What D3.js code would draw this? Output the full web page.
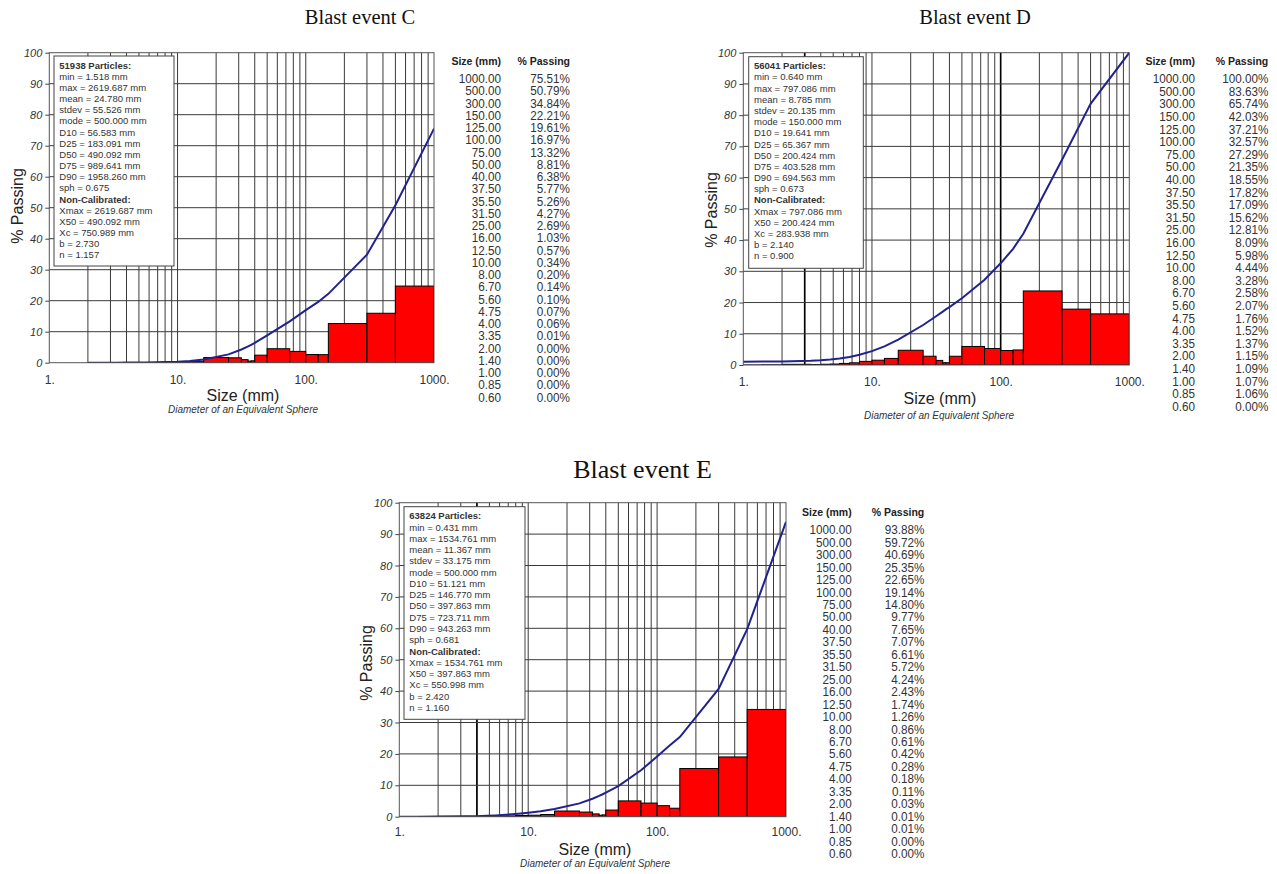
<!DOCTYPE html>
<html><head><meta charset="utf-8">
<script src="https://cdn.jsdelivr.net/npm/d3@7"></script>
<style>
body{margin:0;background:#fff}
svg{display:block}
text{font-family:"Liberation Sans",Arial,Helvetica,sans-serif}
</style>
</head><body>
<svg id="chart" width="1277" height="874"></svg>
<script>
// ---------------- DATA ----------------
const titles = ["Blast event C", "Blast event D", "Blast event E"];
const sieveSizes = [1000, 500, 300, 150, 125, 100, 75, 50, 40, 37.5, 35.5, 31.5, 25, 16, 12.5, 10, 8, 6.7, 5.6, 4.75, 4, 3.35, 2, 1.4, 1, 0.85, 0.6];
const passingC = [75.51, 50.79, 34.84, 22.21, 19.61, 16.97, 13.32, 8.81, 6.38, 5.77, 5.26, 4.27, 2.69, 1.03, 0.57, 0.34, 0.20, 0.14, 0.10, 0.07, 0.06, 0.01, 0.00, 0.00, 0.00, 0.00, 0.00];
const passingD = [100.00, 83.63, 65.74, 42.03, 37.21, 32.57, 27.29, 21.35, 18.55, 17.82, 17.09, 15.62, 12.81, 8.09, 5.98, 4.44, 3.28, 2.58, 2.07, 1.76, 1.52, 1.37, 1.15, 1.09, 1.07, 1.06, 0.00];
const passingE = [93.88, 59.72, 40.69, 25.35, 22.65, 19.14, 14.80, 9.77, 7.65, 7.07, 6.61, 5.72, 4.24, 2.43, 1.74, 1.26, 0.86, 0.61, 0.42, 0.28, 0.18, 0.11, 0.03, 0.01, 0.01, 0.00, 0.00];
const minSizeC = 1.518, minSizeD = 0.640, minSizeE = 0.431;
const statsC = ["51938 Particles:", "min = 1.518 mm", "max = 2619.687 mm", "mean = 24.780 mm", "stdev = 55.526 mm", "mode = 500.000 mm", "D10 = 56.583 mm", "D25 = 183.091 mm", "D50 = 490.092 mm", "D75 = 989.641 mm", "D90 = 1958.260 mm", "sph = 0.675", "Non-Calibrated:", "Xmax = 2619.687 mm", "X50 = 490.092 mm", "Xc = 750.989 mm", "b = 2.730", "n = 1.157"];
const statsD = ["56041 Particles:", "min = 0.640 mm", "max = 797.086 mm", "mean = 8.785 mm", "stdev = 20.135 mm", "mode = 150.000 mm", "D10 = 19.641 mm", "D25 = 65.367 mm", "D50 = 200.424 mm", "D75 = 403.528 mm", "D90 = 694.563 mm", "sph = 0.673", "Non-Calibrated:", "Xmax = 797.086 mm", "X50 = 200.424 mm", "Xc = 283.938 mm", "b = 2.140", "n = 0.900"];
const statsE = ["63824 Particles:", "min = 0.431 mm", "max = 1534.761 mm", "mean = 11.367 mm", "stdev = 33.175 mm", "mode = 500.000 mm", "D10 = 51.121 mm", "D25 = 146.770 mm", "D50 = 397.863 mm", "D75 = 723.711 mm", "D90 = 943.263 mm", "sph = 0.681", "Non-Calibrated:", "Xmax = 1534.761 mm", "X50 = 397.863 mm", "Xc = 550.998 mm", "b = 2.420", "n = 1.160"];
const boldStatLines = ["Particles:", "Non-Calibrated:"];
const xTickValues = [1, 10, 100, 1000];
const xTickLabels = ["1.", "10.", "100.", "1000."];
const yTickValues = [0, 10, 20, 30, 40, 50, 60, 70, 80, 90, 100];
const gridMultipliers = [2, 3, 4, 5, 6, 7, 8, 9];
const darkGridC = [], darkGridD = [3, 100], darkGridE = [4];
const tableHeaders = ["Size (mm)", "% Passing"];
const xAxisTitle = "Size (mm)";
const xAxisSubtitle = "Diameter of an Equivalent Sphere";
const yAxisTitle = "% Passing";

// ---------------- LAYOUT ----------------
const panels = [
  {title: titles[0], passing: passingC, stats: statsC, minSize: minSizeC, dark: darkGridC,
   left: 49.3, right: 434, top: 52.7, bottom: 362.7,
   titlePos: [360, 24, 20.5], yTitle: [17, 206], xTitle: [243, 400.7], sub: [243, 412.6], xTickY: 384.3,
   box: [54, 56, 120, 210, 11.17],
   table: {sizeRight: 501, pctRight: 570, headY: 64.6, row0: 83.2, step: 12.25}},
  {title: titles[1], passing: passingD, stats: statsD, minSize: minSizeD, dark: darkGridD,
   left: 743.3, right: 1129.3, top: 52.7, bottom: 365,
   titlePos: [975, 24, 20.5], yTitle: [711.7, 210], xTitle: [940, 404], sub: [939, 418.6], xTickY: 386,
   box: [748.7, 56.7, 114.6, 211.6, 11.18],
   table: {sizeRight: 1195, pctRight: 1268.3, headY: 64.6, row0: 83.2, step: 12.6}},
  {title: titles[2], passing: passingE, stats: statsE, minSize: minSizeE, dark: darkGridE,
   left: 399.3, right: 786, top: 502.7, bottom: 816.7,
   titlePos: [642.5, 478.3, 26], yTitle: [366, 663], xTitle: [595, 855], sub: [595, 867], xTickY: 836,
   box: [404, 506.7, 121, 212.6, 11.27],
   table: {sizeRight: 851.7, pctRight: 924.3, headY: 515.5, row0: 534.2, step: 12.46}}
];

const svg = d3.select("#chart");
svg.append("rect").attr("width", 1277).attr("height", 874).attr("fill", "#fff");
const fmt2 = d3.format(".2f");

panels.forEach((p, pi) => {
  const g = svg.append("g");
  const x = d3.scaleLog().domain([1, 1000]).range([p.left, p.right]);
  const y = d3.scaleLinear().domain([0, 100]).range([p.bottom, p.top]);
  const clipId = "clip" + pi;
  g.append("clipPath").attr("id", clipId).append("rect")
    .attr("x", p.left).attr("y", p.top - 1).attr("width", p.right - p.left).attr("height", p.bottom - p.top + 1);

  // title
  svg.append("text").attr("x", p.titlePos[0]).attr("y", p.titlePos[1])
    .attr("text-anchor", "middle").style("font-family", "'Liberation Serif','Times New Roman',serif")
    .style("font-size", p.titlePos[2] + "px").attr("fill", "#111").text(p.title);

  // vertical grid
  const vGrid = [];
  xTickValues.slice(0, 3).forEach(dec => gridMultipliers.forEach(m => vGrid.push(dec * m)));
  vGrid.push(10, 100);
  g.append("g").selectAll("line").data(vGrid).join("line")
    .attr("x1", d => x(d)).attr("x2", d => x(d)).attr("y1", p.top).attr("y2", p.bottom)
    .attr("stroke", "#3a3a3a").attr("stroke-width", 1);
  g.append("g").selectAll("line").data(p.dark).join("line")
    .attr("x1", d => x(d)).attr("x2", d => x(d)).attr("y1", p.top).attr("y2", p.bottom)
    .attr("stroke", "#000").attr("stroke-width", 1.6);
  // horizontal grid
  g.append("g").selectAll("line").data(yTickValues.slice(1, -1)).join("line")
    .attr("x1", p.left).attr("x2", p.right).attr("y1", d => y(d)).attr("y2", d => y(d))
    .attr("stroke", "#3a3a3a").attr("stroke-width", 1);

  // histogram bins from the table (retained between consecutive sieves)
  const pts = sieveSizes.map((s, i) => ({size: s, pass: p.passing[i]}));
  const asc = pts.slice().reverse();
  const bins = d3.pairs(asc).map(([a, b]) => ({lo: a.size, hi: b.size, h: b.pass - a.pass}))
    .filter(b => b.hi > p.minSize);
  g.append("g").attr("clip-path", `url(#${clipId})`).selectAll("rect").data(bins).join("rect")
    .attr("x", d => x(d.lo)).attr("width", d => x(d.hi) - x(d.lo))
    .attr("y", d => y(d.h)).attr("height", d => y(0) - y(d.h))
    .attr("fill", "#ff0000").attr("stroke", "#000").attr("stroke-width", 1);

  // cumulative curve (starts at the first sieve not smaller than the min particle size)
  const startIdx = asc.findIndex(d => d.size >= p.minSize);
  const linePts = asc.slice(startIdx);
  g.append("path").attr("clip-path", `url(#${clipId})`).datum(linePts)
    .attr("d", d3.line().x(d => x(d.size)).y(d => y(d.pass)))
    .attr("fill", "none").attr("stroke", "#22228e").attr("stroke-width", 2);

  // frame
  g.append("rect").attr("x", p.left).attr("y", p.top).attr("width", p.right - p.left).attr("height", p.bottom - p.top)
    .attr("fill", "none").attr("stroke", "#555").attr("stroke-width", 1);

  // y axis
  const yAxis = d3.axisLeft(y).tickValues(yTickValues).tickSize(4).tickPadding(3);
  const ya = g.append("g").attr("transform", `translate(${p.left},0)`).call(yAxis);
  ya.select(".domain").remove();
  ya.selectAll("line").attr("stroke", "#444");
  ya.selectAll("text").style("font-size", "11px").style("font-style", "italic").attr("fill", "#333");

  // x axis labels
  const xAxis = d3.axisBottom(x).tickValues(xTickValues).tickFormat((d, i) => xTickLabels[i]).tickSize(0).tickPadding(0);
  const xa = g.append("g").attr("transform", `translate(0,${p.xTickY})`).call(xAxis);
  xa.select(".domain").remove();
  xa.selectAll("text").attr("dy", 0).attr("y", 0).style("font-size", "12px").attr("fill", "#333");

  // axis titles
  g.append("text").attr("transform", `translate(${p.yTitle[0]},${p.yTitle[1]}) rotate(-90)`)
    .attr("text-anchor", "middle").attr("dy", "0.35em").style("font-size", "16px").attr("fill", "#222").text(yAxisTitle);
  g.append("text").attr("x", p.xTitle[0]).attr("y", p.xTitle[1]).attr("text-anchor", "middle")
    .style("font-size", "16px").attr("fill", "#222").text(xAxisTitle);
  g.append("text").attr("x", p.sub[0]).attr("y", p.sub[1]).attr("text-anchor", "middle")
    .style("font-size", "10px").style("font-style", "italic").attr("fill", "#333").text(xAxisSubtitle);

  // stats box
  const [bx, by, bw, bh, bstep] = p.box;
  g.append("rect").attr("x", bx).attr("y", by).attr("width", bw).attr("height", bh)
    .attr("fill", "#fff").attr("stroke", "#444").attr("stroke-width", 1);
  g.append("g").selectAll("text").data(p.stats).join("text")
    .attr("x", bx + 5.3).attr("y", (d, i) => by + 12.6 + i * bstep)
    .style("font-size", "9.5px").attr("fill", "#333")
    .style("font-weight", d => boldStatLines.some(b => d.endsWith(b)) ? "bold" : "normal")
    .text(d => d);

  // table
  const t = p.table;
  g.append("text").attr("x", t.sizeRight).attr("y", t.headY).attr("text-anchor", "end")
    .style("font-size", "10.5px").style("font-weight", "bold").attr("fill", "#222").text(tableHeaders[0]);
  g.append("text").attr("x", t.pctRight).attr("y", t.headY).attr("text-anchor", "end")
    .style("font-size", "10.5px").style("font-weight", "bold").attr("fill", "#222").text(tableHeaders[1]);
  const rows = g.append("g");
  pts.forEach((d, i) => {
    const yy = t.row0 + i * t.step;
    rows.append("text").attr("transform", `translate(${t.sizeRight},${yy}) scale(0.9,1)`)
      .attr("text-anchor", "end").style("font-size", "13px").attr("fill", "#333").text(fmt2(d.size));
    rows.append("text").attr("transform", `translate(${t.pctRight},${yy}) scale(0.9,1)`)
      .attr("text-anchor", "end").style("font-size", "13px").attr("fill", "#333").text(fmt2(d.pass) + "%");
  });
});
</script>
</body></html>
